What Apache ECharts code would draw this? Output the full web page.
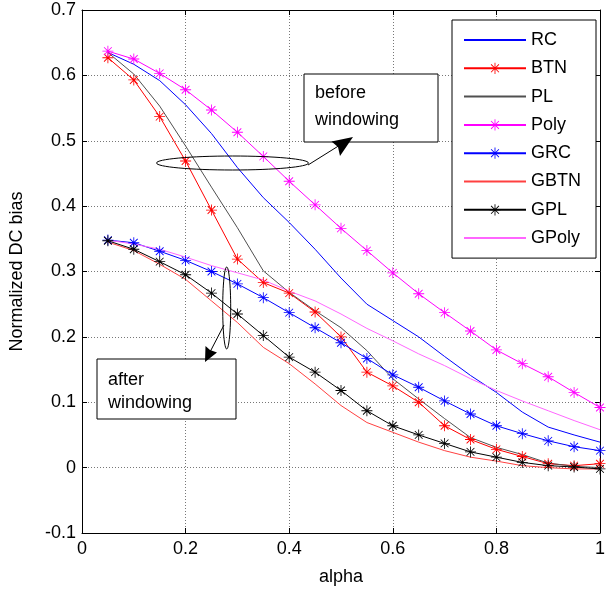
<!DOCTYPE html>
<html>
<head>
<meta charset="utf-8">
<script src="https://cdn.jsdelivr.net/npm/echarts@6/dist/echarts.min.js"></script>
<style>html,body{margin:0;padding:0;background:#fff}#c{width:608px;height:591px}</style>
</head>
<body>
<div id="c"></div>
<script>
const alpha = [0.05,0.1,0.15,0.2,0.25,0.3,0.35,0.4,0.45,0.5,0.55,0.6,0.65,0.7,0.75,0.8,0.85,0.9,0.95,1.0];
const RC    = [0.635,0.617,0.592,0.555,0.511,0.459,0.413,0.375,0.334,0.290,0.250,0.225,0.200,0.170,0.141,0.115,0.085,0.062,0.050,0.039];
const BTN   = [0.627,0.593,0.537,0.469,0.394,0.319,0.283,0.267,0.238,0.200,0.146,0.125,0.100,0.064,0.043,0.028,0.017,0.006,0.003,0.006];
const PL    = [0.635,0.602,0.553,0.492,0.429,0.367,0.301,0.268,0.240,0.214,0.179,0.136,0.105,0.075,0.046,0.031,0.020,0.007,0.002,0.000];
const Poly  = [0.637,0.625,0.603,0.578,0.547,0.513,0.476,0.438,0.402,0.366,0.332,0.298,0.266,0.237,0.209,0.180,0.159,0.139,0.115,0.092];
const GRC   = [0.348,0.344,0.331,0.317,0.300,0.281,0.260,0.237,0.214,0.191,0.167,0.142,0.123,0.102,0.082,0.064,0.052,0.041,0.032,0.026];
const GBTN  = [0.345,0.332,0.311,0.288,0.255,0.222,0.184,0.159,0.128,0.095,0.069,0.054,0.039,0.026,0.016,0.010,0.003,0.000,-0.002,-0.002];
const GPL   = [0.347,0.334,0.315,0.295,0.267,0.235,0.202,0.169,0.146,0.118,0.087,0.064,0.050,0.037,0.024,0.016,0.008,0.003,0.001,-0.002];
const GPoly = [0.348,0.342,0.334,0.322,0.309,0.298,0.287,0.270,0.255,0.235,0.213,0.194,0.174,0.156,0.136,0.118,0.102,0.087,0.072,0.058];

const seriesNames = ['RC','BTN','PL','Poly','GRC','GBTN','GPL','GPoly'];
const xTicks = {min:0, max:1, interval:0.2};
const yTicks = {min:-0.1, max:0.7, interval:0.1};

const FONT = 'Liberation Sans, Arial, sans-serif';
const star = 'path://M0 9.25L20 9.25L20 10.75L0 10.75Z M9.25 0L10.75 0L10.75 20L9.25 20Z M3.5 2.4L17.6 16.5L16.5 17.6L2.4 3.5Z M17.6 3.5L3.5 17.6L2.4 16.5L16.5 2.4Z';

function pairs(ys){ return alpha.map((a,i)=>[a, ys[i]]); }
function mk(name, ys, color, marker){
  return {
    name, type:'line', data: pairs(ys), xAxisIndex:0, yAxisIndex:0,
    symbol: marker ? star : 'none', symbolSize: 11, showSymbol: !!marker,
    lineStyle:{color, width:1}, itemStyle:{color},
    emphasis:{disabled:true}, animation:false, z: 3
  };
}

const styles = {
  RC:['#0000ff',false], BTN:['#ff0000',true], PL:['#505050',false], Poly:['#ff00ff',true],
  GRC:['#0000ff',true], GBTN:['#ff4040',false], GPL:['#000000',true], GPoly:['#ff66ff',false]
};
const values = {RC, BTN, PL, Poly, GRC, GBTN, GPL, GPoly};
const series = seriesNames.map(n => mk(n, values[n], styles[n][0], styles[n][1]));

const legendData = seriesNames.map(n => styles[n][1]
  ? {name:n}
  : {name:n, itemStyle:{opacity:0}});

function axisBase(extra){
  return Object.assign({
    type:'value',
    axisLine:{show:true, onZero:false, lineStyle:{color:'#000', width:1}},
    axisTick:{show:true, inside:true, length:5, lineStyle:{color:'#000'}},
    splitLine:{show:false},
    axisLabel:{show:false}
  }, extra);
}

const chart = echarts.init(document.getElementById('c'), null, {renderer:'canvas'});
chart.setOption({
  animation:false,
  backgroundColor:'#fff',
  grid:{left:78, right:5, top:10, bottom:57, containLabel:false},
  xAxis:[
    axisBase(Object.assign({}, xTicks, {
      position:'bottom',
      name:'alpha', nameLocation:'middle', nameGap:35,
      nameTextStyle:{fontFamily:FONT, fontSize:18, color:'#000'},
      axisLabel:{show:true, margin:7, color:'#000', fontFamily:FONT, fontSize:18},
      splitLine:{show:true, lineStyle:{color:'#777', type:[1,2], width:1}}
    })),
    axisBase(Object.assign({}, xTicks, {position:'top'}))
  ],
  yAxis:[
    axisBase(Object.assign({}, yTicks, {
      position:'left',
      name:'Normalized DC bias', nameLocation:'middle', nameGap:56,
      nameTextStyle:{fontFamily:FONT, fontSize:18, color:'#000'},
      axisLabel:{show:true, margin:6, color:'#000', fontFamily:FONT, fontSize:18},
      splitLine:{show:true, lineStyle:{color:'#777', type:[1,2], width:1}}
    })),
    axisBase(Object.assign({}, yTicks, {position:'right'}))
  ],
  legend:{
    orient:'vertical', left:452, top:20,
    padding:[11,15,11,11],
    itemWidth:62, itemHeight:14, itemGap:10.3, itemTextGap:8,
    backgroundColor:'#fff', borderColor:'#000', borderWidth:1, borderRadius:0,
    textStyle:{fontFamily:FONT, fontSize:18, color:'#000', lineHeight:18},
    data: legendData,
    selectedMode:false
  },
  series,
  graphic:[
    {type:'ellipse', shape:{cx:232.5, cy:163, rx:76, ry:7}, style:{fill:'none', stroke:'#000', lineWidth:1}, z:10},
    {type:'line', shape:{x1:308, y1:165, x2:340, y2:145}, style:{stroke:'#000', lineWidth:1}, z:10},
    {type:'polygon', shape:{points:[[353,137],[331.5,141.5],[338,147],[340,156]]}, style:{fill:'#000'}, z:10},
    {type:'rect', shape:{x:304, y:74, width:134, height:68}, style:{fill:'#fff', stroke:'#000', lineWidth:1}, z:9},
    {type:'text', style:{x:315, y:93, text:'before', font:'18px '+FONT, fill:'#000', verticalAlign:'middle'}, z:11},
    {type:'text', style:{x:315, y:120, text:'windowing', font:'18px '+FONT, fill:'#000', verticalAlign:'middle'}, z:11},

    {type:'ellipse', shape:{cx:226.7, cy:308, rx:4, ry:41}, style:{fill:'none', stroke:'#000', lineWidth:1}, z:10},
    {type:'line', shape:{x1:224, y1:325, x2:210, y2:352}, style:{stroke:'#000', lineWidth:1}, z:10},
    {type:'polygon', shape:{points:[[205,362],[205.5,346],[210,350],[217,352.5]]}, style:{fill:'#000'}, z:10},
    {type:'rect', shape:{x:97, y:359, width:139, height:60}, style:{fill:'#fff', stroke:'#000', lineWidth:1}, z:9},
    {type:'text', style:{x:108, y:380, text:'after', font:'18px '+FONT, fill:'#000', verticalAlign:'middle'}, z:11},
    {type:'text', style:{x:108, y:403, text:'windowing', font:'18px '+FONT, fill:'#000', verticalAlign:'middle'}, z:11}
  ]
});
</script>
</body>
</html>
